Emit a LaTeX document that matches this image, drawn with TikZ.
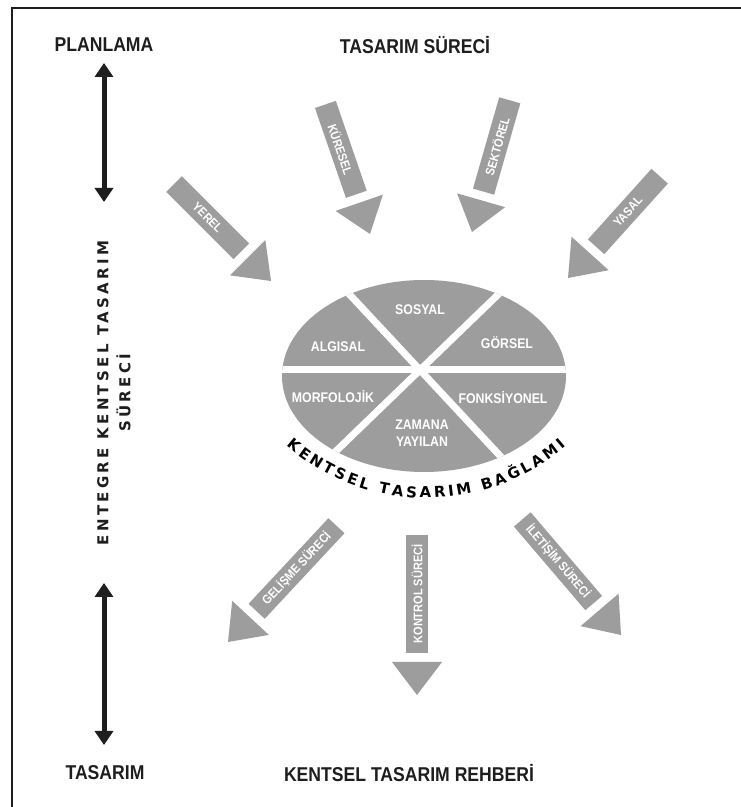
\documentclass[tikz,border=0pt]{standalone}
\usepackage{fontspec}
\setmainfont{Liberation Sans}
\newfontfamily\condfont{Liberation Sans}[FakeStretch=0.88]
\newfontfamily\spacedfont{DejaVu Sans}[LetterSpace=22]
\newfontfamily\widefont{DejaVu Sans}
\usetikzlibrary{arrows.meta,decorations.text}
\definecolor{ggray}{RGB}{157,157,157}
\definecolor{ink}{RGB}{30,30,30}
\newcommand\arcfnt{\widefont\bfseries\fontsize{15}{17}\selectfont}
% #1 name, #2 tip, #3 direction angle, #4 body length, #5 text, #6 text rotation
\newcommand\blockarrow[6]{%
  \begin{scope}[shift={(#2)}, rotate=#3]
    \fill[ggray] (0,0) -- (-33,25) -- (-33,-25) -- cycle;
    \fill[ggray] (-42,-11) rectangle (-42-#4,11);
    \node[armtext, rotate=#6] (#1) at (-42-#4/2,0) {#5};
  \end{scope}}
\begin{document}
\begin{tikzpicture}[x=1pt,y=1pt,
  head/.style={font=\condfont\bfseries\fontsize{20}{22}\selectfont, text=ink, inner sep=0pt},
  side/.style={font=\spacedfont\bfseries\fontsize{15}{22}\selectfont, text=ink, inner sep=0pt, align=center},
  armtext/.style={font=\condfont\bfseries\fontsize{12.5}{14}\selectfont, text=white, inner sep=0pt},
  sectext/.style={font=\condfont\bfseries\fontsize{14}{17}\selectfont, text=white, inner sep=0pt, align=center},
  dblarrow/.style={ink, line width=5pt, {Triangle[width=18pt,length=14pt]}-{Triangle[width=18pt,length=14pt]}}]
\useasboundingbox (0,0) rectangle (741,807);
\fill[white] (0,0) rectangle (741,807);
% frame
\draw[ink, line width=2pt] (12,0) -- (12,799) -- (741,799);
% headings
\node[head] (plan) at (104,762) {PLANLAMA};
\node[head] (tsur) at (415,762) {TASARIM SÜRECİ};
\node[head] (tas) at (105,34) {TASARIM};
\node[head] (ktr) at (409,34) {KENTSEL TASARIM REHBERİ};
% double arrows
\coordinate (pt) at (104,744);
\coordinate (pb) at (104,605);
\coordinate (qt) at (104,224);
\coordinate (qb) at (104,62);
\draw[dblarrow] (pt) -- (pb);
\draw[dblarrow] (qt) -- (qb);
\node[side, rotate=90] (ekts) at (114,414) {ENTEGRE KENTSEL TASARIM\\SÜRECİ};
% ellipse
\begin{scope}
  \fill[ggray] (424,431) ellipse [x radius=142pt, y radius=96pt];
  \clip (424,431) ellipse [x radius=142pt, y radius=96pt];
  \draw[white, line width=7pt] (250,437) -- (600,437);
  \draw[white, line width=7pt] (420,437) ++(44:200pt) -- ++(224:400pt);
  \draw[white, line width=7pt] (420,437) ++(-47:200pt) -- ++(133:400pt);
\end{scope}
\node[sectext] (sosyal) at (420,497) {SOSYAL};
\node[sectext] (algisal) at (338,460) {ALGISAL};
\node[sectext] (gorsel) at (507,464) {GÖRSEL};
\node[sectext] (morf) at (333,410) {MORFOLOJİK};
\node[sectext] (fonk) at (503,409) {FONKSİYONEL};
\node[sectext] (zaman) at (422,374) {ZAMANA\\YAYILAN};
% arc text
\path (426,522) ++(229:213pt) coordinate (arcstart);
\path[decorate, decoration={text along path, text={|\arcfnt|KENTSEL TASARIM BAĞLAMI}, text align=fit to path}]
  (arcstart) arc[start angle=229, end angle=311, radius=213pt];
% block arrows
\blockarrow{yerel}{271,526}{-45}{95}{YEREL}{-45}
\blockarrow{kuresel}{370,573}{-71}{95}{KÜRESEL}{-71}
\blockarrow{sektorel}{472,575}{-106}{95}{SEKTÖREL}{74}
\blockarrow{yasal}{568,529}{-132}{95}{YASAL}{48}
\blockarrow{gelisme}{228,165}{-133}{117}{GELİŞME SÜRECİ}{47}
\blockarrow{kontrol}{417,112}{-90}{118}{KONTROL SÜRECİ}{90}
\blockarrow{iletisim}{621,172}{-49.5}{110}{İLETİŞİM SÜRECİ}{-49.5}
\end{tikzpicture}
\end{document}
